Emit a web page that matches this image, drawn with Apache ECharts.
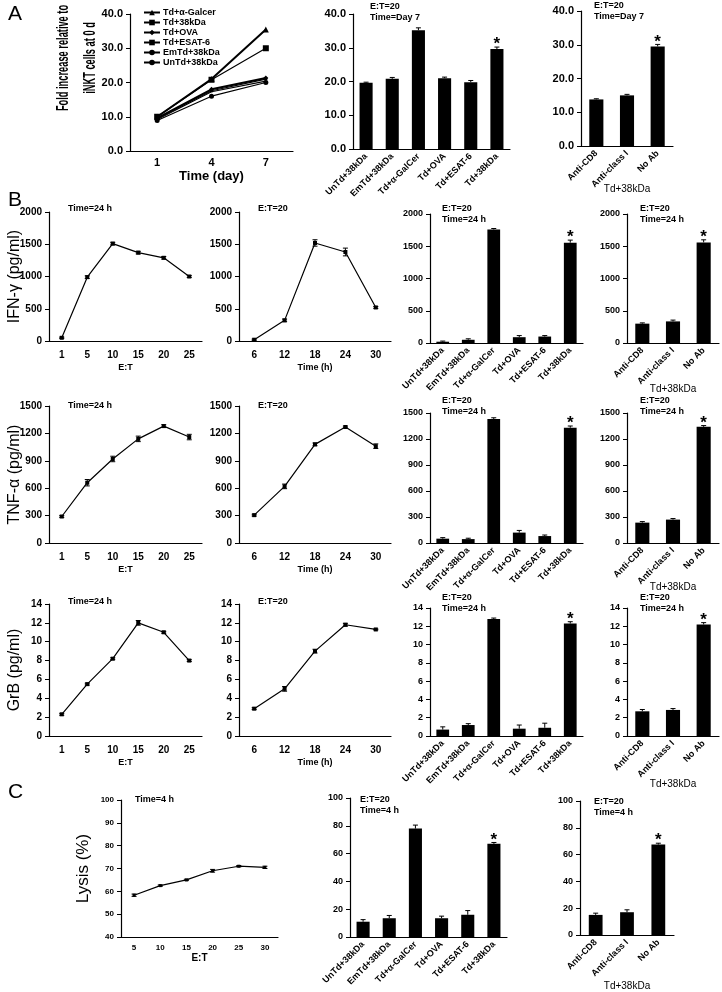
<!DOCTYPE html>
<html>
<head>
<meta charset="utf-8">
<script src="https://cdn.jsdelivr.net/npm/echarts@6/dist/echarts.min.js"></script>
<style>
  html, body { margin: 0; padding: 0; background: #fff; }
  #chart { width: 722px; height: 992px; }
</style>
</head>
<body>
<div id="chart"></div>
<script>
// ---- data ----
const dayCats = ['1', '4', '7'];
const foldGalcer = [10, 21, 35.5];
const fold38kDa = [10, 20.8, 30];
const foldOVA = [9.6, 18, 21.3];
const foldESAT6 = [9.5, 17.6, 21];
const foldEmTd = [9.2, 17.3, 20.4];
const foldUnTd = [8.9, 16, 20];

const groupCats = ['UnTd+38kDa', 'EmTd+38kDa', 'Td+α-GalCer', 'Td+OVA', 'Td+ESAT-6', 'Td+38kDa'];
const abCats = ['Anti-CD8', 'Anti-class I', 'No Ab'];
const etCats = ['1', '5', '10', '15', '20', '25'];
const timeCats = ['6', '12', '18', '24', '30'];
const lysisEtCats = ['5', '10', '15', '20', '25', '30'];

const foldGroups = [19.6, 20.8, 35.2, 21, 19.8, 29.6];
const foldGroupsErr = [0.2, 0.4, 0.7, 0.3, 0.5, 0.6];
const foldAb = [13.8, 15, 29.5];
const foldAbErr = [0.2, 0.3, 0.6];

const ifnEt = [50, 990, 1510, 1370, 1290, 1000];
const ifnEtErr = [10, 20, 20, 20, 20, 15];
const ifnTime = [20, 320, 1520, 1380, 520];
const ifnTimeErr = [10, 20, 50, 60, 15];
const ifnGroups = [20, 50, 1760, 90, 100, 1555];
const ifnGroupsErr = [10, 15, 15, 25, 15, 40];
const ifnAb = [300, 335, 1560];
const ifnAbErr = [12, 20, 40];

const tnfEt = [290, 660, 920, 1140, 1280, 1160];
const tnfEtErr = [10, 35, 30, 30, 15, 30];
const tnfTime = [305, 620, 1080, 1270, 1060];
const tnfTimeErr = [10, 25, 15, 10, 25];
const tnfGroups = [50, 45, 1430, 120, 80, 1330];
const tnfGroupsErr = [12, 10, 15, 25, 12, 20];
const tnfAb = [235, 270, 1340];
const tnfAbErr = [12, 12, 15];

const grbEt = [2.3, 5.5, 8.2, 12, 11, 8];
const grbEtErr = [0.1, 0.1, 0.1, 0.25, 0.1, 0.1];
const grbTime = [2.9, 5, 9, 11.8, 11.3];
const grbTimeErr = [0.1, 0.25, 0.2, 0.15, 0.05];
const grbGroups = [0.7, 1.2, 12.8, 0.8, 0.9, 12.3];
const grbGroupsErr = [0.3, 0.15, 0.1, 0.4, 0.5, 0.2];
const grbAb = [2.7, 2.85, 12.2];
const grbAbErr = [0.2, 0.15, 0.2];

const lysisEt = [58.3, 62.5, 65, 69, 71, 70.5];
const lysisEtErr = [0.5, 0.3, 0.3, 0.6, 0.3, 0.5];
const lysisGroups = [11, 13.5, 78, 13.5, 16, 67];
const lysisGroupsErr = [1.5, 2, 2.5, 1.5, 3, 1];
const lysisAb = [15, 17, 67.5];
const lysisAbErr = [1.3, 1.8, 1];

// ---- helpers ----
const FONT = '"Liberation Sans", Arial, sans-serif';
const grids = [], xAxes = [], yAxes = [], series = [], graphics = [];

function panel(p) {
  const i = grids.length;
  grids.push({ left: p.left, top: p.top, width: p.width, height: p.height });
  xAxes.push({
    type: 'category', gridIndex: i, data: p.cats, boundaryGap: true,
    axisLine: { lineStyle: { color: '#000', width: 1.2 } },
    axisTick: { inside: true, length: 3, lineStyle: { color: '#000' } },
    axisLabel: {
      color: '#000', fontFamily: FONT, fontWeight: 'bold', fontSize: p.xFont || 10,
      rotate: p.rotate || 0, margin: p.xMargin || 8, interval: 0
    },
    name: p.xName || '', nameLocation: 'middle', nameGap: p.xNameGap || 22,
    nameMoveOverlap: false,
    nameTextStyle: {
      color: '#000', fontFamily: FONT, fontSize: p.xNameSize || 9,
      fontWeight: p.xNameWeight || 'bold'
    }
  });
  yAxes.push({
    type: 'value', gridIndex: i, min: p.min || 0, max: p.max, interval: p.interval,
    splitLine: { show: false },
    axisLine: { show: true, lineStyle: { color: '#000', width: 1.2 } },
    axisTick: { show: true, length: 4, lineStyle: { color: '#000' } },
    axisLabel: {
      color: '#000', fontFamily: FONT, fontWeight: 'bold', fontSize: p.yFont || 10,
      formatter: p.fmt || (v => String(v)), margin: p.yMargin || 7
    },
    name: p.yName || '', nameLocation: 'middle', nameRotate: 90, nameGap: p.yNameGap || 26,
    nameMoveOverlap: false,
    nameTextStyle: {
      color: '#000', fontFamily: FONT, fontSize: p.yNameSize || 16,
      fontWeight: p.yNameWeight || 'normal'
    }
  });
  return i;
}

function errBars(i, values, errs, both, star) {
  series.push({
    type: 'custom', xAxisIndex: i, yAxisIndex: i, silent: true, z: 5,
    data: values.map((v, k) => [k, v, errs[k], k === star ? 1 : 0]),
    renderItem: (params, api) => {
      const k = api.value(0), v = api.value(1), e = api.value(2);
      const hi = api.coord([k, v + e]);
      const lo = api.coord([k, both ? v - e : v]);
      const hw = 2.5;
      const kids = [
        { type: 'line', shape: { x1: hi[0], y1: hi[1], x2: lo[0], y2: lo[1] }, style: { stroke: '#000', lineWidth: 1 } },
        { type: 'line', shape: { x1: hi[0] - hw, y1: hi[1], x2: hi[0] + hw, y2: hi[1] }, style: { stroke: '#000', lineWidth: 1 } }
      ];
      if (both) kids.push({ type: 'line', shape: { x1: lo[0] - hw, y1: lo[1], x2: lo[0] + hw, y2: lo[1] }, style: { stroke: '#000', lineWidth: 1 } });
      if (api.value(3)) kids.push({
        type: 'text', x: hi[0], y: hi[1] + 6,
        style: { text: '*', fill: '#000', font: 'bold 17px ' + FONT, align: 'center', verticalAlign: 'bottom' }
      });
      return { type: 'group', children: kids };
    }
  });
}

function lineSeries(i, name, values, symbol, size, width) {
  series.push({
    type: 'line', name: name, xAxisIndex: i, yAxisIndex: i, data: values,
    symbol: symbol, symbolSize: size, showSymbol: symbol !== 'none',
    lineStyle: { color: '#000', width: width || 1.2 }, itemStyle: { color: '#000' },
    z: 3
  });
}

function barSeries(i, values, bw) {
  series.push({
    type: 'bar', xAxisIndex: i, yAxisIndex: i, data: values, barWidth: bw || '50%',
    itemStyle: { color: '#000' }
  });
}

function note(x, y, lines, size) {
  lines.forEach((t, n) => graphics.push({
    type: 'text', left: x, top: y + n * (size + 2),
    style: { text: t, fill: '#000', font: 'bold ' + size + 'px ' + FONT }
  }));
}

function letter(x, y, t) {
  graphics.push({ type: 'text', left: x, top: y, style: { text: t, fill: '#000', font: '21px ' + FONT } });
}

const f1 = v => v.toFixed(1);
const rotCfg = { rotate: 45, xFont: 9, xMargin: 6 };

// ---- Panel A ----
letter(8, 4, 'A');
let a0 = panel({
  left: 130, top: 14, width: 163, height: 137, cats: dayCats, max: 40, interval: 10,
  fmt: f1, yFont: 11, xFont: 11, xMargin: 6,
  xName: 'Time (day)', xNameGap: 19, xNameSize: 13
});
// two-line y title of panel A sits above the axis middle, as in the figure
graphics.push({
  type: 'text', x: 77, y: 58, rotation: Math.PI / 2, scaleX: 0.58,
  style: {
    text: 'Fold increase relative to\niNKT cells at 0 d', fill: '#000',
    font: 'bold 16px ' + FONT, align: 'center', verticalAlign: 'middle', lineHeight: 27
  }
});
lineSeries(a0, 'Td+α-Galcer', foldGalcer, 'triangle', 6, 2);
lineSeries(a0, 'Td+38kDa', fold38kDa, 'rect', 6, 1.2);
lineSeries(a0, 'Td+OVA', foldOVA, 'diamond', 5, 2);
lineSeries(a0, 'Td+ESAT-6', foldESAT6, 'rect', 3, 1.2);
lineSeries(a0, 'EmTd+38kDa', foldEmTd, 'none', 2, 1.2);
lineSeries(a0, 'UnTd+38kDa', foldUnTd, 'circle', 5, 1.2);

let a1 = panel({ left: 353, top: 14, width: 157, height: 135, cats: groupCats, max: 40, interval: 10, fmt: f1, yFont: 11, ...rotCfg });
barSeries(a1, foldGroups);
errBars(a1, foldGroups, foldGroupsErr, false, 5);
note(370, 2, ['E:T=20', 'Time=Day 7'], 9);

let a2 = panel({
  left: 581, top: 11, width: 92, height: 135, cats: abCats, max: 40, interval: 10, fmt: f1, yFont: 11, ...rotCfg,
  xName: 'Td+38kDa', xNameGap: 38, xNameSize: 10, xNameWeight: 'normal'
});
barSeries(a2, foldAb, '46%');
errBars(a2, foldAb, foldAbErr, false, 2);
note(594, 1, ['E:T=20', 'Time=Day 7'], 9);

// ---- Panel B ----
letter(8, 190, 'B');
const rows = [
  { name: 'IFN-γ (pg/ml)', max: 2000, iv: 500, lt: 212, lh: 129, bt: 214, bh: 129, et: ifnEt, ee: ifnEtErr, tm: ifnTime, te: ifnTimeErr, gr: ifnGroups, ge: ifnGroupsErr, ab: ifnAb, ae: ifnAbErr, ty: 204, by: 204, tdGap: 41 },
  { name: 'TNF-α (pg/ml)', max: 1500, iv: 300, lt: 406, lh: 137, bt: 413, bh: 130, et: tnfEt, ee: tnfEtErr, tm: tnfTime, te: tnfTimeErr, gr: tnfGroups, ge: tnfGroupsErr, ab: tnfAb, ae: tnfAbErr, ty: 401, by: 396, tdGap: 39 },
  { name: 'GrB (pg/ml)', max: 14, iv: 2, lt: 604, lh: 132, bt: 608, bh: 128, et: grbEt, ee: grbEtErr, tm: grbTime, te: grbTimeErr, gr: grbGroups, ge: grbGroupsErr, ab: grbAb, ae: grbAbErr, ty: 597, by: 593, tdGap: 43 }
];
rows.forEach(r => {
  let l1 = panel({
    left: 49, top: r.lt, width: 153, height: r.lh, cats: etCats, max: r.max, interval: r.iv,
    xName: 'E:T', xNameGap: 22, yName: r.name, yNameGap: 26, xMargin: 9
  });
  lineSeries(l1, '', r.et, 'rect', 4, 1.2);
  errBars(l1, r.et, r.ee, true, -1);
  note(68, r.ty, ['Time=24 h'], 9);

  let l2 = panel({
    left: 239, top: r.lt, width: 152, height: r.lh, cats: timeCats, max: r.max, interval: r.iv,
    xName: 'Time (h)', xNameGap: 22, xMargin: 9
  });
  lineSeries(l2, '', r.tm, 'rect', 4, 1.2);
  errBars(l2, r.tm, r.te, true, -1);
  note(258, r.ty, ['E:T=20'], 9);

  let b1 = panel({ left: 430, top: r.bt, width: 153, height: r.bh, cats: groupCats, max: r.max, interval: r.iv, yFont: 9, ...rotCfg });
  barSeries(b1, r.gr);
  errBars(b1, r.gr, r.ge, false, 5);
  note(442, r.by, ['E:T=20', 'Time=24 h'], 9);

  let b2 = panel({
    left: 627, top: r.bt, width: 92, height: r.bh, cats: abCats, max: r.max, interval: r.iv, yFont: 9, ...rotCfg,
    xName: 'Td+38kDa', xNameGap: r.tdGap, xNameSize: 10, xNameWeight: 'normal'
  });
  barSeries(b2, r.ab, '46%');
  errBars(b2, r.ab, r.ae, false, 2);
  note(640, r.by, ['E:T=20', 'Time=24 h'], 9);
});

// ---- Panel C ----
letter(8, 782, 'C');
let c0 = panel({
  left: 121, top: 800, width: 157, height: 137, cats: lysisEtCats, min: 40, max: 100, interval: 10,
  yFont: 8, xFont: 8, xMargin: 7, xName: 'E:T', xNameGap: 16, xNameSize: 10,
  yName: 'Lysis (%)', yNameGap: 29, yNameSize: 17
});
lineSeries(c0, '', lysisEt, 'rect', 3, 1.2);
errBars(c0, lysisEt, lysisEtErr, true, -1);
note(135, 795, ['Time=4 h'], 9);

let c1 = panel({ left: 350, top: 798, width: 157, height: 139, cats: groupCats, max: 100, interval: 20, yFont: 9, ...rotCfg });
barSeries(c1, lysisGroups);
errBars(c1, lysisGroups, lysisGroupsErr, false, 5);
note(360, 795, ['E:T=20', 'Time=4 h'], 9);

let c2 = panel({
  left: 580, top: 801, width: 94, height: 137, cats: abCats, max: 100, interval: 20, yFont: 9, ...rotCfg,
  xName: 'Td+38kDa', xNameGap: 46, xNameSize: 10, xNameWeight: 'normal'
});
barSeries(c2, lysisAb, '44%');
errBars(c2, lysisAb, lysisAbErr, false, 2);
note(594, 797, ['E:T=20', 'Time=4 h'], 9);

const chart = echarts.init(document.getElementById('chart'));
chart.setOption({
  animation: false,
  backgroundColor: '#fff',
  textStyle: { fontFamily: FONT },
  legend: {
    left: 138, top: 3, orient: 'vertical', itemGap: 1, itemWidth: 16, itemHeight: 7,
    data: ['Td+α-Galcer', 'Td+38kDa', 'Td+OVA', 'Td+ESAT-6', 'EmTd+38kDa', 'UnTd+38kDa'],
    textStyle: { color: '#000', fontFamily: FONT, fontWeight: 'bold', fontSize: 9, padding: [0, 0, 0, -2] }
  },
  grid: grids,
  xAxis: xAxes,
  yAxis: yAxes,
  series: series,
  graphic: graphics
});
</script>
</body>
</html>
